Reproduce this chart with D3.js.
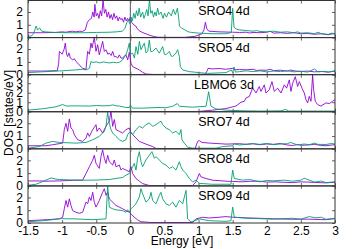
<!DOCTYPE html>
<html>
<head>
<meta charset="utf-8">
<script src="https://cdn.jsdelivr.net/npm/d3@7"></script>
<style>
  body { margin: 0; background: #fff; }
  svg { display: block; font-family: "Liberation Sans", Arial, sans-serif; }
</style>
</head>
<body>
<svg id="chart"></svg>
<script>
// Layered DOS, six panels stacked; [energy eV, DOS states/eV]

const panelLabels = ['SRO4 4d', 'SRO5 4d', 'LBMO6 3d', 'SRO7 4d', 'SRO8 4d', 'SRO9 4d'];
const panelMax = [2.9, 2.9, 3.9, 2.9, 2.9, 2.9];
const panelTicks = [[0, 1, 2], [0, 1, 2], [0, 1, 2, 3], [0, 1, 2], [0, 1, 2], [0, 1, 2]];
const energyTicks = [-1.5, -1, -0.5, 0, 0.5, 1, 1.5, 2, 2.5, 3];

const sro4Up = [[-1.5,0.38],[-1.3,0.38],[-1.1,0.4],[-1.0,0.45],[-0.95,0.42],[-0.85,0.5],[-0.8,0.45],[-0.75,0.5],[-0.7,0.48],[-0.66,0.6],[-0.63,1.2],[-0.6,1.4],[-0.57,1.5],[-0.55,2.0],[-0.53,1.6],[-0.52,2.6],[-0.5,1.7],[-0.48,1.9],[-0.46,1.5],[-0.44,2.1],[-0.42,1.7],[-0.4,2.95],[-0.38,1.9],[-0.36,2.2],[-0.34,1.6],[-0.32,2.0],[-0.3,1.5],[-0.28,1.8],[-0.26,1.4],[-0.24,1.9],[-0.22,1.5],[-0.2,1.7],[-0.18,1.3],[-0.16,1.6],[-0.14,1.4],[-0.12,1.5],[-0.1,1.2],[-0.08,1.6],[-0.06,1.3],[-0.04,1.5],[-0.02,1.3],[0,1.6],[0.02,1.2],[0.05,1.0],[0.08,0.9],[0.1,0.7],[0.14,0.5],[0.2,0.35],[0.25,0.25],[0.3,0.15],[0.35,0.08],[0.4,0.03],[0.5,0.02],[0.8,0.02],[0.95,0.1],[1.05,0.3],[1.08,0.6],[1.1,1.2],[1.12,0.7],[1.15,0.5],[1.3,0.45],[1.5,0.42],[1.6,0.4],[1.7,0.42],[1.75,0.36],[1.8,0.4],[1.9,0.38],[2.0,0.42],[2.05,0.5],[2.1,0.35],[2.2,0.38],[2.3,0.33],[2.4,0.38],[2.5,0.3],[2.6,0.32],[2.7,0.26],[2.8,0.3],[2.9,0.22],[2.95,0.28],[3.0,0.3]];
const sro4Dn = [[-1.5,0.1],[-1.45,0.12],[-1.42,0.3],[-1.4,0.6],[-1.38,0.9],[-1.36,0.6],[-1.33,0.75],[-1.3,0.5],[-1.25,0.45],[-1.1,0.4],[-0.9,0.38],[-0.7,0.38],[-0.5,0.4],[-0.3,0.42],[-0.2,0.45],[-0.12,0.5],[-0.08,0.7],[-0.05,1.2],[-0.03,1.4],[-0.01,1.1],[0.01,1.6],[0.03,1.3],[0.05,1.9],[0.07,1.5],[0.09,2.1],[0.11,1.7],[0.13,2.3],[0.15,1.6],[0.18,2.0],[0.2,1.5],[0.22,1.8],[0.24,2.2],[0.26,1.7],[0.28,2.95],[0.3,1.9],[0.32,2.1],[0.34,1.6],[0.36,2.0],[0.38,1.7],[0.4,2.3],[0.42,1.8],[0.45,2.0],[0.48,1.5],[0.5,1.9],[0.53,1.6],[0.56,2.0],[0.6,1.7],[0.63,2.2],[0.66,1.8],[0.69,2.3],[0.71,1.5],[0.72,0.9],[0.75,0.75],[0.8,0.6],[0.85,0.45],[0.9,0.4],[1.0,0.35],[1.2,0.3],[1.4,0.3],[1.48,0.4],[1.5,2.3],[1.52,0.8],[1.56,0.65],[1.6,0.6],[1.7,0.55],[1.8,0.5],[1.85,0.55],[1.9,0.48],[2.0,0.45],[2.1,0.5],[2.2,0.42],[2.3,0.45],[2.4,0.38],[2.45,0.45],[2.5,0.35],[2.6,0.38],[2.7,0.3],[2.75,0.42],[2.8,0.3],[2.9,0.25],[2.95,0.35],[3.0,0.3]];

const sro5Up = [[-1.5,0.29],[-1.3,0.28],[-1.15,0.3],[-1.07,0.32],[-1.05,0.9],[-1.04,1.82],[-1.0,1.6],[-0.97,2.0],[-0.953,2.47],[-0.935,1.6],[-0.919,1.42],[-0.9,1.7],[-0.88,1.3],[-0.845,1.16],[-0.82,1.25],[-0.797,1.03],[-0.77,0.9],[-0.748,0.76],[-0.72,0.6],[-0.699,0.5],[-0.65,0.42],[-0.626,1.82],[-0.6,1.6],[-0.577,2.47],[-0.56,2.1],[-0.528,2.92],[-0.503,1.82],[-0.479,2.34],[-0.455,1.55],[-0.43,2.08],[-0.406,2.6],[-0.381,1.82],[-0.357,1.95],[-0.33,1.6],[-0.308,1.68],[-0.28,1.5],[-0.259,1.82],[-0.235,1.4],[-0.21,1.42],[-0.185,1.3],[-0.161,1.55],[-0.137,1.3],[-0.113,1.29],[-0.09,1.45],[-0.064,1.55],[-0.039,1.16],[-0.015,1.75],[0.01,0.89],[0.034,0.63],[0.083,0.5],[0.132,0.37],[0.18,0.18],[0.23,0.05],[0.327,0.02],[0.8,0.02],[1.1,0.03],[1.13,0.35],[1.14,0.5],[1.2,0.45],[1.3,0.48],[1.4,0.42],[1.5,0.5],[1.52,0.38],[1.6,0.4],[1.7,0.38],[1.8,0.42],[1.85,0.33],[1.9,0.35],[2.0,0.35],[2.05,0.42],[2.1,0.32],[2.2,0.35],[2.3,0.28],[2.35,0.36],[2.4,0.3],[2.5,0.25],[2.6,0.28],[2.7,0.22],[2.8,0.25],[2.9,0.2],[3.0,0.28]];
const sro5Dn = [[-1.5,0.16],[-1.3,0.22],[-1.04,0.29],[-0.8,0.37],[-0.7,0.42],[-0.65,0.37],[-0.6,0.5],[-0.577,1.03],[-0.55,0.95],[-0.5,1.0],[-0.45,0.92],[-0.4,1.0],[-0.35,0.95],[-0.3,0.92],[-0.25,0.97],[-0.2,0.93],[-0.16,0.97],[-0.113,1.16],[-0.064,1.55],[-0.039,1.95],[-0.015,2.47],[0.0,1.6],[0.034,1.68],[0.06,1.3],[0.083,2.2],[0.11,1.6],[0.132,2.6],[0.156,1.95],[0.205,2.47],[0.23,1.7],[0.254,1.82],[0.278,2.7],[0.3,1.8],[0.327,1.82],[0.376,2.08],[0.425,1.68],[0.474,2.2],[0.5,1.6],[0.523,1.55],[0.571,1.82],[0.6,1.45],[0.62,1.42],[0.669,1.68],[0.694,1.95],[0.718,1.42],[0.733,0.63],[0.767,0.37],[0.864,0.24],[1.011,0.16],[1.133,0.1],[1.402,0.16],[1.48,0.37],[1.5,0.16],[1.52,0.6],[1.54,0.2],[1.6,0.24],[1.7,0.3],[1.8,0.24],[1.9,0.3],[2.0,0.22],[2.1,0.28],[2.2,0.24],[2.3,0.3],[2.4,0.22],[2.5,0.27],[2.6,0.2],[2.7,0.45],[2.75,0.22],[2.85,0.26],[2.9,0.2],[3.0,0.3]];

const lbmo6Up = [[-1.5,0.0],[-0.5,0.0],[0.5,0.01],[1.0,0.03],[1.206,0.17],[1.402,0.34],[1.548,0.6],[1.622,1.0],[1.671,1.1],[1.695,1.45],[1.744,1.6],[1.793,2.5],[1.842,1.97],[1.89,2.65],[1.915,2.14],[1.964,2.83],[1.988,1.97],[2.037,2.31],[2.076,3.17],[2.11,2.14],[2.159,2.48],[2.208,1.97],[2.257,2.83],[2.291,2.48],[2.33,3.35],[2.355,2.14],[2.379,3.0],[2.418,3.69],[2.452,2.66],[2.477,3.17],[2.516,2.48],[2.55,1.97],[2.574,1.28],[2.599,0.93],[2.623,1.62],[2.648,1.1],[2.672,3.86],[2.687,2.31],[2.711,1.1],[2.745,0.76],[2.794,0.59],[2.867,0.93],[2.916,0.86],[2.965,1.1],[3.0,1.28]];
const lbmo6Dn = [[-1.5,0.17],[-1.285,0.31],[-1.09,0.52],[-0.99,0.76],[-0.94,0.6],[-0.8,0.62],[-0.6,0.6],[-0.5,0.65],[-0.4,0.62],[-0.3,0.65],[-0.26,0.72],[-0.2,0.62],[-0.16,0.6],[-0.064,0.45],[-0.01,0.45],[0.0,0.7],[0.03,0.38],[0.18,0.38],[0.42,0.45],[0.52,0.42],[0.62,0.58],[0.69,0.86],[0.72,0.58],[0.91,0.48],[1.11,0.58],[1.148,2.1],[1.182,0.58],[1.255,0.3],[1.4,0.17],[1.65,0.1],[1.9,0.07],[2.2,0.1],[2.28,0.24],[2.32,0.07],[2.6,0.07],[3.0,0.07]];

const sro7Up = [[-1.5,0.24],[-1.236,0.24],[-1.138,0.32],[-0.992,0.45],[-0.968,1.5],[-0.943,2.0],[-0.919,1.37],[-0.894,2.34],[-0.87,1.63],[-0.845,1.5],[-0.821,1.11],[-0.772,0.71],[-0.699,0.58],[-0.65,0.84],[-0.626,1.24],[-0.601,0.97],[-0.552,1.5],[-0.503,1.89],[-0.489,1.37],[-0.455,1.63],[-0.406,1.24],[-0.357,1.76],[-0.308,2.16],[-0.284,2.95],[-0.259,1.76],[-0.235,2.29],[-0.21,1.5],[-0.161,1.37],[-0.113,1.24],[-0.064,1.5],[-0.015,1.63],[0.01,1.24],[0.034,1.11],[0.083,0.84],[0.132,0.58],[0.229,0.37],[0.327,0.18],[0.376,0.03],[0.6,0.02],[0.95,0.03],[0.987,0.58],[1.01,0.65],[1.05,0.5],[1.158,0.45],[1.402,0.37],[1.6,0.4],[1.7,0.35],[1.8,0.4],[1.89,0.32],[2.0,0.38],[2.1,0.35],[2.2,0.42],[2.3,0.3],[2.379,0.26],[2.45,0.34],[2.5,0.28],[2.6,0.3],[2.7,0.35],[2.8,0.26],[2.868,0.24],[2.95,0.3],[3.0,0.32]];
const sro7Dn = [[-1.5,0.05],[-1.334,0.18],[-1.236,0.45],[-1.138,0.58],[-1.041,0.5],[-0.797,0.45],[-0.65,0.5],[-0.552,0.71],[-0.455,0.97],[-0.381,1.37],[-0.357,1.76],[-0.332,2.87],[-0.308,2.0],[-0.284,1.5],[-0.259,1.24],[-0.21,0.97],[-0.161,0.71],[-0.113,0.58],[-0.064,0.71],[-0.039,1.11],[0.0,1.37],[0.034,1.11],[0.083,1.5],[0.132,1.76],[0.18,1.63],[0.229,1.89],[0.278,2.03],[0.327,1.76],[0.376,1.89],[0.425,2.08],[0.449,2.16],[0.474,1.89],[0.523,1.63],[0.571,1.5],[0.62,1.24],[0.669,1.37],[0.718,1.11],[0.742,1.5],[0.757,0.71],[0.791,0.45],[0.84,0.13],[0.913,0.05],[1.255,0.05],[1.353,0.18],[1.5,0.24],[1.52,0.4],[1.6,0.3],[1.7,0.36],[1.793,0.4],[1.9,0.35],[2.0,0.42],[2.1,0.33],[2.184,0.37],[2.3,0.4],[2.35,0.5],[2.45,0.3],[2.55,0.38],[2.623,0.32],[2.7,0.45],[2.75,0.35],[2.868,0.34],[2.95,0.42],[3.0,0.37]];

const sro8Up = [[-1.5,0.39],[-1.334,0.39],[-1.236,0.37],[-1.041,0.39],[-0.797,0.45],[-0.699,0.45],[-0.65,0.97],[-0.601,1.5],[-0.552,2.0],[-0.528,2.4],[-0.503,1.76],[-0.455,1.37],[-0.43,2.29],[-0.406,2.82],[-0.381,2.16],[-0.357,1.76],[-0.332,2.4],[-0.308,1.89],[-0.259,1.63],[-0.235,2.03],[-0.21,1.5],[-0.161,1.63],[-0.137,1.24],[-0.113,1.37],[-0.064,1.24],[-0.015,1.11],[0.01,1.5],[0.034,0.97],[0.083,0.58],[0.132,0.37],[0.18,0.18],[0.278,0.03],[0.6,0.02],[0.913,0.03],[0.962,0.32],[1.011,0.97],[1.035,0.71],[1.109,0.58],[1.206,0.45],[1.402,0.37],[1.5,0.35],[1.646,0.32],[1.75,0.36],[1.89,0.37],[2.0,0.3],[2.135,0.32],[2.25,0.28],[2.379,0.26],[2.5,0.32],[2.6,0.3],[2.75,0.26],[2.868,0.24],[3.0,0.29]];
const sro8Dn = [[-1.5,0.05],[-1.383,0.13],[-1.236,0.45],[-1.163,0.63],[-1.09,0.53],[-1.041,0.5],[-0.797,0.45],[-0.552,0.45],[-0.308,0.5],[-0.113,0.66],[-0.064,0.84],[-0.015,0.97],[0.034,1.5],[0.058,1.76],[0.083,1.24],[0.107,2.16],[0.132,2.68],[0.156,1.89],[0.18,1.5],[0.229,2.03],[0.278,2.4],[0.317,2.68],[0.352,2.16],[0.376,2.29],[0.425,2.03],[0.474,1.76],[0.523,1.63],[0.571,1.37],[0.62,1.5],[0.669,1.24],[0.718,1.89],[0.742,1.5],[0.767,1.24],[0.816,0.97],[0.864,0.58],[0.913,0.32],[0.962,0.45],[1.011,0.2],[1.2,0.13],[1.475,0.13],[1.5,1.24],[1.524,0.58],[1.646,0.45],[1.75,0.5],[1.89,0.32],[2.0,0.42],[2.1,0.4],[2.25,0.45],[2.379,0.37],[2.5,0.45],[2.55,0.6],[2.623,0.45],[2.7,0.3],[2.8,0.38],[2.868,0.26],[3.0,0.32]];

const sro9Up = [[-1.5,0.18],[-1.285,0.24],[-1.041,0.32],[-0.992,0.45],[-0.968,1.11],[-0.943,1.76],[-0.919,1.24],[-0.894,1.89],[-0.87,1.37],[-0.845,0.97],[-0.797,0.84],[-0.748,0.76],[-0.699,0.84],[-0.674,1.24],[-0.65,1.63],[-0.626,1.5],[-0.601,2.03],[-0.577,1.76],[-0.552,2.4],[-0.528,1.63],[-0.503,1.24],[-0.455,1.76],[-0.406,2.4],[-0.381,2.68],[-0.357,2.16],[-0.332,2.4],[-0.308,1.89],[-0.259,1.63],[-0.21,1.37],[-0.161,1.24],[-0.113,1.11],[-0.064,0.97],[-0.015,0.84],[0.01,0.71],[0.058,0.45],[0.107,0.24],[0.156,0.1],[0.3,0.04],[0.913,0.04],[0.962,0.32],[1.06,0.45],[1.158,0.39],[1.3,0.45],[1.402,0.5],[1.5,0.45],[1.7,0.4],[1.89,0.37],[2.1,0.33],[2.379,0.29],[2.6,0.3],[2.868,0.26],[3.0,0.34]];
const sro9Dn = [[-1.5,0.1],[-1.285,0.18],[-1.138,0.26],[-1.041,0.34],[-0.797,0.32],[-0.552,0.26],[-0.357,0.32],[-0.332,2.95],[-0.308,1.24],[-0.259,1.11],[-0.21,1.03],[-0.113,0.97],[-0.064,0.84],[-0.039,1.03],[-0.015,0.84],[0.01,1.11],[0.034,1.24],[0.083,1.5],[0.132,2.03],[0.156,2.68],[0.18,2.29],[0.229,1.63],[0.278,1.89],[0.303,2.4],[0.327,1.76],[0.376,1.5],[0.425,2.16],[0.449,2.4],[0.474,1.89],[0.523,1.5],[0.571,1.37],[0.62,1.63],[0.669,1.24],[0.718,1.76],[0.767,1.5],[0.816,2.55],[0.84,0.32],[0.889,0.08],[1.011,0.32],[1.158,0.18],[1.402,0.13],[1.475,0.18],[1.5,1.24],[1.524,0.45],[1.646,0.4],[1.75,0.36],[1.89,0.34],[2.1,0.3],[2.25,0.34],[2.379,0.37],[2.5,0.3],[2.623,0.5],[2.721,0.4],[2.8,0.45],[2.868,0.29],[3.0,0.37]];

const upSeries = [sro4Up, sro5Up, lbmo6Up, sro7Up, sro8Up, sro9Up];
const dnSeries = [sro4Dn, sro5Dn, lbmo6Dn, sro7Dn, sro8Dn, sro9Dn];

const width = 356, height = 249;
const plotLeft = 28, plotRight = 335, plotTop = 0.5, plotBottom = 223;
const panelH = (plotBottom - plotTop) / panelLabels.length;

const svg = d3.select('#chart').attr('width', width).attr('height', height);

const xScale = d3.scaleLinear().domain([-1.5, 3]).range([plotLeft, plotRight]);

const line = (y) => d3.line().x(d => xScale(d[0])).y(d => y(d[1]));

panelLabels.forEach((label, i) => {
  const top = plotTop + i * panelH;
  const bottom = top + panelH;
  const yScale = d3.scaleLinear().domain([0, panelMax[i]]).range([bottom, top]);

  const g = svg.append('g').attr('class', 'panel');

  g.append('clipPath').attr('id', 'clip' + i)
    .append('rect')
    .attr('x', plotLeft).attr('y', top)
    .attr('width', plotRight - plotLeft).attr('height', panelH);

  // zero energy line
  g.append('line')
    .attr('x1', xScale(0)).attr('x2', xScale(0))
    .attr('y1', top).attr('y2', bottom)
    .style('stroke', '#555').style('stroke-width', 1);

  const curves = g.append('g').attr('clip-path', `url(#clip${i})`);
  curves.append('path').datum(upSeries[i])
    .attr('d', line(yScale))
    .style('fill', 'none').style('stroke', '#9400d3').style('stroke-width', 0.9);
  curves.append('path').datum(dnSeries[i])
    .attr('d', line(yScale))
    .style('fill', 'none').style('stroke', '#009e73').style('stroke-width', 0.9);

  // left axis with labels
  const yAxis = g.append('g')
    .attr('transform', `translate(${plotLeft},0)`)
    .call(d3.axisLeft(yScale).tickValues(panelTicks[i]).tickSize(-3).tickPadding(5).tickFormat(d => d));
  yAxis.select('.domain').remove();
  yAxis.selectAll('line').style('stroke', '#666');
  yAxis.selectAll('text').style('font-size', '12px').style('fill', '#000')
    .style('font-family', '"Liberation Sans", Arial, sans-serif');

  // right mirrored ticks
  const yAxisR = g.append('g')
    .attr('transform', `translate(${plotRight},0)`)
    .call(d3.axisRight(yScale).tickValues(panelTicks[i]).tickSize(-3).tickFormat(''));
  yAxisR.select('.domain').remove();
  yAxisR.selectAll('line').style('stroke', '#666');

  // x ticks on top and bottom of each panel
  const xb = g.append('g').attr('transform', `translate(0,${bottom})`)
    .call(d3.axisBottom(xScale).tickValues(energyTicks).tickSize(-3).tickFormat(''));
  xb.select('.domain').remove();
  xb.selectAll('line').style('stroke', '#666');
  const xt = g.append('g').attr('transform', `translate(0,${top})`)
    .call(d3.axisTop(xScale).tickValues(energyTicks).tickSize(-3).tickFormat(''));
  xt.select('.domain').remove();
  xt.selectAll('line').style('stroke', '#666');

  g.append('rect')
    .attr('x', plotLeft).attr('y', top)
    .attr('width', plotRight - plotLeft).attr('height', panelH)
    .style('fill', 'none').style('stroke', '#333').style('stroke-width', 1);

  g.append('text')
    .attr('x', 224).attr('y', top + 14)
    .attr('text-anchor', 'middle')
    .style('font-size', '12.5px')
    .style('fill', '#000')
    .text(label);
});

// bottom energy axis labels
const xAxis = svg.append('g')
  .attr('transform', `translate(0,${plotBottom})`)
  .call(d3.axisBottom(xScale).tickValues(energyTicks).tickSize(0).tickPadding(3).tickFormat(d => String(d)));
xAxis.select('.domain').remove();
xAxis.selectAll('text').style('font-size', '12px').style('fill', '#000')
  .style('font-family', '"Liberation Sans", Arial, sans-serif');

svg.append('text')
  .attr('x', 182).attr('y', 245)
  .attr('text-anchor', 'middle')
  .style('font-size', '12px')
  .text('Energy [eV]');

svg.append('text')
  .attr('transform', 'translate(13,113) rotate(-90)')
  .attr('text-anchor', 'middle')
  .style('font-size', '12px')
  .text('DOS [states/eV]');
</script>
</body>
</html>
